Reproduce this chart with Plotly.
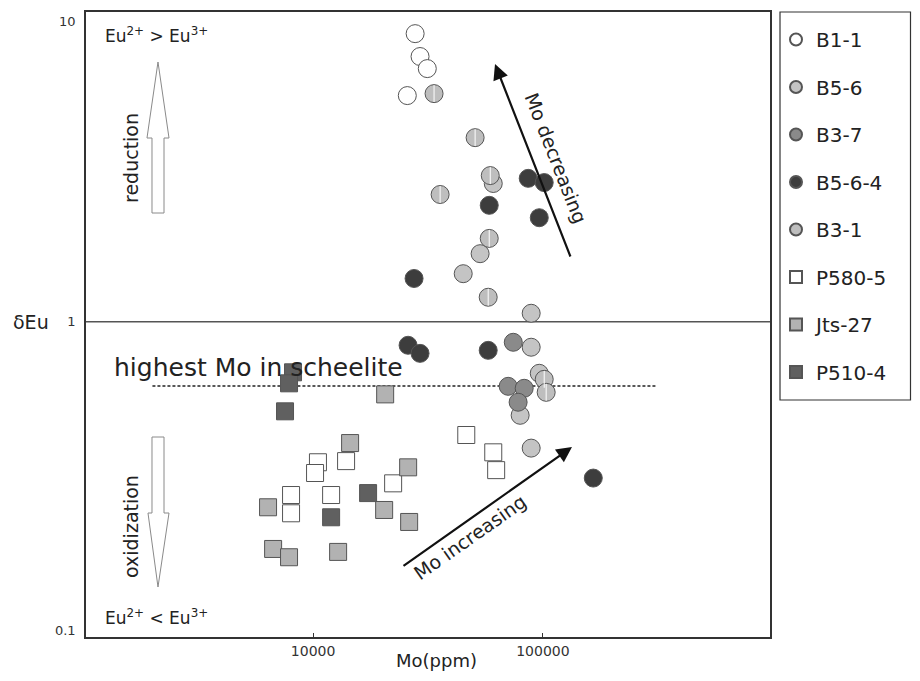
import plotly.graph_objects as go

# ---------------- data ----------------
B1_1_mo = [27800, 29200, 31400, 25700]
B1_1_eu = [8.55, 7.21, 6.59, 5.39]

B5_6_mo = [60800, 53300, 45000, 88900, 88900, 96400, 79600, 88900]
B5_6_eu = [2.80, 1.66, 1.43, 1.065, 0.827, 0.681, 0.498, 0.390]

B3_7_mo = [74300, 70600, 82900, 78000]
B3_7_eu = [0.858, 0.618, 0.609, 0.549]

B5_6_4_mo = [86300, 101300, 96400, 58400, 27500, 25900, 29200, 57800, 165600]
B5_6_4_eu = [2.91, 2.82, 2.17, 2.38, 1.38, 0.839, 0.790, 0.808, 0.312]

B3_1_mo = [33600, 50700, 35700, 59000, 58400, 57800, 101300, 103300]
B3_1_eu = [5.47, 3.94, 2.58, 2.97, 1.86, 1.20, 0.651, 0.591]

P580_5_mo = [10500, 10200, 13920, 8020, 8020, 11980, 22300, 46400, 60800, 62600]
P580_5_eu = [0.351, 0.324, 0.354, 0.275, 0.240, 0.275, 0.300, 0.430, 0.378, 0.331]

Jts_27_mo = [20590, 14490, 25920, 6370, 20380, 26180, 6700, 7860, 12850]
Jts_27_eu = [0.582, 0.405, 0.338, 0.251, 0.246, 0.225, 0.184, 0.173, 0.180]

P510_4_mo = [8180, 7860, 7550, 17350, 11980]
P510_4_eu = [0.686, 0.632, 0.513, 0.279, 0.233]

highest_mo_level = 0.62
highest_mo_span = [2000, 310000]

x_tickvals = [10000, 100000]
x_ticktext = ["10000", "100000"]
y_tickvals = [0.1, 1, 10]
y_ticktext = ["0.1", "1", "<br>10"]

X_RANGE_LOG = [3.012, 5.988]
Y_RANGE_LOG = [-1.02, 1.002]

# ---------------- layout helpers (page pixel -> paper) ----------------
BODY = 8                      # default page body margin of the html page
W, H = 920 - 2 * BODY, 681 - 2 * BODY
L, R, T, B = 86, 770, 12, 637  # plot area in page pixels


def px(xp):
    return (xp - L) / (R - L)


def py(yp):
    return (B - yp) / (B - T)


FONT = "DejaVu Sans, Liberation Sans, Arial, sans-serif"
OUT = "#555555"

series = [
    ("B1-1", B1_1_mo, B1_1_eu, "circle", "#ffffff", 18),
    ("B5-6", B5_6_mo, B5_6_eu, "circle", "#c4c4c4", 18),
    ("B3-7", B3_7_mo, B3_7_eu, "circle", "#8a8a8a", 18),
    ("B5-6-4", B5_6_4_mo, B5_6_4_eu, "circle", "#3d3d3d", 18),
    ("B3-1", B3_1_mo, B3_1_eu, "circle", "#bebebe", 18),
    ("P580-5", P580_5_mo, P580_5_eu, "square", "#ffffff", 17),
    ("Jts-27", Jts_27_mo, Jts_27_eu, "square", "#b2b2b2", 17),
    ("P510-4", P510_4_mo, P510_4_eu, "square", "#606060", 17),
]

fig = go.Figure()

# reference line delta Eu = 1
fig.add_trace(go.Scatter(
    x=[10 ** X_RANGE_LOG[0], 10 ** X_RANGE_LOG[1]], y=[1, 1], mode="lines",
    line=dict(color="#555555", width=1.5), showlegend=False, hoverinfo="skip"))

# highest Mo in scheelite dashed line
fig.add_trace(go.Scatter(
    x=highest_mo_span, y=[highest_mo_level, highest_mo_level], mode="lines",
    line=dict(color="#222222", width=1.5, dash="3px,2px"), showlegend=False,
    hoverinfo="skip"))

for name, xs, ys, sym, col, sz in series:
    fig.add_trace(go.Scatter(
        x=xs, y=ys, mode="markers", name=name, legendgroup=name,
        marker=dict(symbol=sym, size=sz, color=col,
                    line=dict(color=OUT, width=1))))

# stripes on B3-1 circles
fig.add_trace(go.Scatter(
    x=B3_1_mo, y=B3_1_eu, mode="markers", showlegend=False, hoverinfo="skip",
    marker=dict(symbol="line-ns", size=12, line=dict(color="#ffffff", width=1))))

fig.update_xaxes(
    type="log", range=X_RANGE_LOG, tickvals=x_tickvals, ticktext=x_ticktext,
    ticks="inside", ticklen=4, tickcolor="#333", showline=True, mirror=True,
    linecolor="#333333", linewidth=1.5, showgrid=False, zeroline=False,
    automargin=False,
    tickfont=dict(family=FONT, size=14, color="#333"))
fig.update_yaxes(
    type="log", range=Y_RANGE_LOG, tickvals=y_tickvals, ticktext=y_ticktext,
    ticks="", showline=True, mirror=True, linecolor="#333333", linewidth=1.5,
    showgrid=False, zeroline=False, automargin=False, ticklabelstandoff=6,
    ticklabeloverflow="allow",
    tickfont=dict(family=FONT, size=13, color="#333"))

ann = []


def text(xp, yp, s, size, angle=0, xanchor="center"):
    ann.append(dict(x=px(xp), y=py(yp), xref="paper", yref="paper", text=s,
                    showarrow=False, textangle=angle, xanchor=xanchor,
                    yanchor="middle",
                    font=dict(family=FONT, size=size, color="#222")))


text(103, 35, "Eu<sup>2+</sup> > Eu<sup>3+</sup>", 17, xanchor="left")
text(103, 617, "Eu<sup>2+</sup> < Eu<sup>3+</sup>", 17, xanchor="left")
text(131, 158, "reduction", 19, angle=-90)
text(131, 527, "oxidization", 19, angle=-90)
text(112, 367, "highest Mo in scheelite", 25, xanchor="left")
text(556, 158, "Mo decreasing", 19, angle=68.6)
text(470, 537, "Mo increasing", 19, angle=-35.2)
text(31, 322, "δEu", 19)
text(436, 660, "Mo(ppm)", 18)

# black arrows
for (hx, hy), (tx, ty) in [((495, 64), (571, 258)), ((572, 447), (402, 567))]:
    ann.append(dict(x=px(hx), y=py(hy), xref="paper", yref="paper", text="",
                    showarrow=True, ax=tx - hx, ay=ty - hy, axref="pixel",
                    ayref="pixel", arrowhead=2, arrowsize=1.4, arrowwidth=2.2,
                    arrowcolor="#111111", standoff=0))

fig.update_layout(annotations=ann)


# hollow arrows (paper coordinates)
def poly(points):
    d = "M " + " L ".join(f"{px(a):.5f},{py(b):.5f}" for a, b in points) + " Z"
    return dict(type="path", path=d, xref="paper", yref="paper",
                line=dict(color="#8a8a8a", width=1), fillcolor="white")


up = [(152, 213), (152, 138), (147, 138), (158, 62), (169, 138), (164, 138),
      (164, 213)]
down = [(152, 437), (152, 513), (148, 513), (158, 587), (169, 513), (164, 513),
        (164, 437)]
legend_box = dict(type="rect", xref="paper", yref="paper",
                  x0=px(780), x1=px(910.5), y0=py(400), y1=py(12),
                  line=dict(color="#333333", width=1.2), fillcolor="rgba(0,0,0,0)")
fig.update_layout(shapes=[poly(up), poly(down), legend_box])

fig.update_layout(
    width=W, height=H,
    margin=dict(l=L - BODY, r=(W + BODY) - R, t=T - BODY, b=(H + BODY) - B,
                autoexpand=False),
    paper_bgcolor="white", plot_bgcolor="white",
    legend=dict(x=px(776), y=py(20), xanchor="left", yanchor="top",
                borderwidth=0, bgcolor="rgba(0,0,0,0)",
                font=dict(family=FONT, size=20, color="#222"),
                itemsizing="constant", tracegroupgap=18.5),
    showlegend=True,
)

fig.write_html("out.html")
